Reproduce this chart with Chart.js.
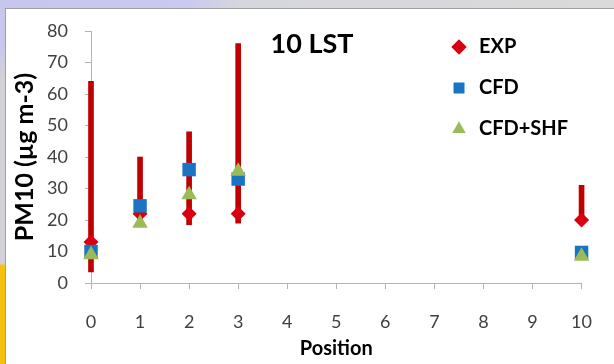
<!DOCTYPE html>
<html><head><meta charset="utf-8">
<script src="https://cdn.jsdelivr.net/npm/chart.js@4.4.1/dist/chart.umd.min.js"></script>
<style>
html,body{margin:0;padding:0;}
body{width:614px;height:364px;position:relative;overflow:hidden;background:linear-gradient(to right,#c6c6ee 0px,#cacaf0 190px,#d6d6de 240px,#dadada 614px);}
#strip{position:absolute;left:0;top:8px;width:5px;height:356px;background:linear-gradient(to bottom,#c8c8ec 0px,#c8c8ec 40px,#d2d2d8 70px,#d2d2d8 255px,#f4c20e 258px,#f4c20e 356px);}
#panel{position:absolute;left:5px;top:8px;width:609px;height:356px;background:#fff;border-left:1px solid #a0a0a0;border-top:1px solid #a0a0a0;box-sizing:border-box;}
#wrap{position:absolute;left:0;top:0;width:614px;height:364px;}
</style></head><body>
<div id="strip"></div><div id="panel"></div>
<div id="wrap"><canvas id="c" width="614" height="364"></canvas></div>
<script>
const positions = [0, 1, 2, 3, 10];
const expValues = [13, 22, 22, 22, 20];
const cfdValues = [10, 24.5, 36, 33, 9.7];
const shfValues = [9, 19, 28, 35.5, 8.5];
const errLow  = [3.5, 19, 18.5, 19, 20];
const errHigh = [64, 40, 48, 76, 31];
const seriesNames = ['EXP', 'CFD', 'CFD+SHF'];
const xTickValues = [0, 1, 2, 3, 4, 5, 6, 7, 8, 9, 10];
const chartTitle = '10 LST';
const xTitle = 'Position';
const yTitle = 'PM10 (µg m-3)';

const pts = ys => positions.map((x, i) => ({x: x, y: ys[i]}));

const placer = {
  id: 'placer',
  afterLayout(chart) {
    const lg = chart.legend;
    if (lg) {
      const w = lg.width, h = lg.height;
      lg.left = 428; lg.top = 16; lg.right = lg.left + w; lg.bottom = lg.top + h;
    }
    const t = chart.titleBlock;
    if (t) {
      const h = t.height;
      t.left = 262; t.right = 362; t.top = 31; t.bottom = t.top + h;
    }
  }
};

new Chart(document.getElementById('c'), {
  type: 'scatter',
  data: {
    datasets: [
      {type: 'bar', label: 'err', data: positions.map((x, i) => ({x: x, y: [errLow[i], errHigh[i]]})),
       backgroundColor: '#c00000', borderWidth: 0, barThickness: 5, grouped: false, order: 4, clip: false},
      {label: seriesNames[0], data: pts(expValues), pointStyle: 'rectRot', pointRadius: 7.5,
       backgroundColor: '#d80010', borderColor: '#d80010', borderWidth: 0, order: 3, clip: false},
      {label: seriesNames[1], data: pts(cfdValues), pointStyle: 'rect', pointRadius: 9.5,
       backgroundColor: '#1a74c4', borderColor: '#1a74c4', borderWidth: 0, order: 2, clip: false},
      {label: seriesNames[2], data: pts(shfValues), pointStyle: 'triangle', pointRadius: 9,
       backgroundColor: '#9bbb59', borderColor: '#9bbb59', borderWidth: 0, order: 1, clip: false}
    ]
  },
  options: {
    responsive: false,
    animation: false,
    layout: {padding: {top: 4, left: 0, right: 21, bottom: 0}},
    plugins: {
      tooltip: {enabled: false},
      title: {display: true, text: chartTitle, color: '#000', padding: 0,
        font: {family: 'Lato', size: 27, weight: 'bold', lineHeight: 1}},
      legend: {
        position: 'chartArea', align: 'start',
        labels: {
          usePointStyle: true, boxHeight: 11, padding: 21, color: '#000',
          font: {family: 'Lato', size: 20, weight: 'bold'},
          filter: item => item.datasetIndex > 0,
          sort: (a, b) => a.datasetIndex - b.datasetIndex
        }
      }
    },
    scales: {
      x: {
        type: 'linear', min: 0, max: 10, offset: false,
        afterFit: s => { s.height = 81; },
        afterBuildTicks: s => { s.ticks = xTickValues.map(v => ({value: v})); },
        grid: {drawOnChartArea: false, offset: false, tickLength: 6, color: '#b4b4b4'},
        border: {color: '#b4b4b4', width: 1},
        ticks: {stepSize: 1, color: '#404040', padding: 22, maxRotation: 0,
          font: {family: 'Lato', size: 18}},
        title: {display: true, text: xTitle, color: '#000', padding: {top: 0, bottom: 3},
          font: {family: 'Lato', size: 20, weight: 'bold'}}
      },
      y: {
        type: 'linear', min: 0, max: 80,
        afterFit: s => { s.width = 91; },
        grid: {drawOnChartArea: false, tickLength: 6, color: '#b4b4b4'},
        border: {color: '#b4b4b4', width: 1},
        ticks: {stepSize: 10, color: '#404040', padding: 17,
          font: {family: 'Lato', size: 18}},
        title: {display: true, text: yTitle, color: '#000', padding: {top: 10, bottom: 0},
          font: {family: 'Lato', size: 25, weight: 'bold'}}
      }
    }
  },
  plugins: [placer]
});
</script>
</body></html>
